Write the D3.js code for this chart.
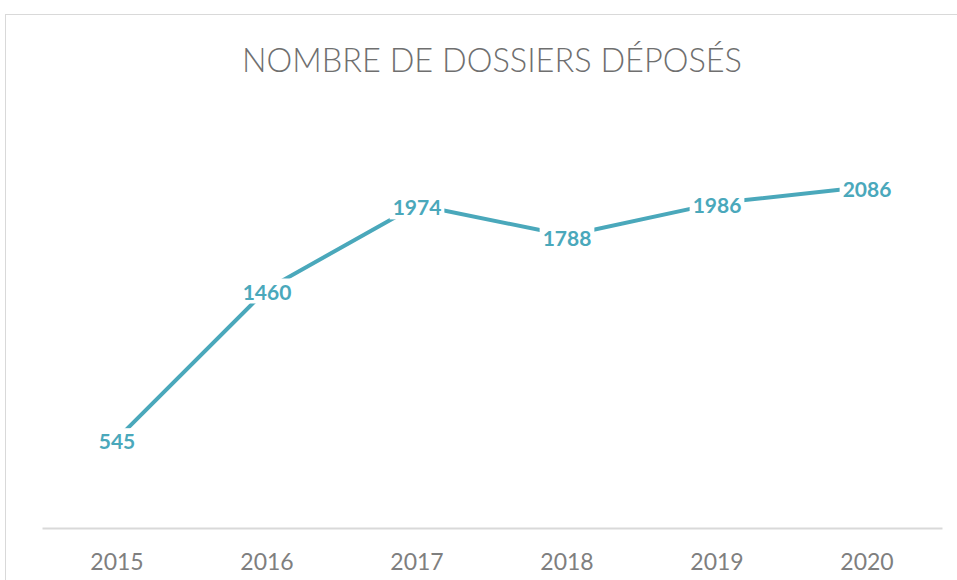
<!DOCTYPE html>
<html lang="fr">
<head>
<meta charset="UTF-8">
<title>Nombre de dossiers déposés</title>
<style>
  body { margin: 0; background: #fff; }
  svg { display: block; }
</style>
</head>
<body>
<div id="root"></div>
<script src="https://d3js.org/d3.v7.min.js"></script>
<script>
const years = ["2015", "2016", "2017", "2018", "2019", "2020"]
const dossiers = [545, 1460, 1974, 1788, 1986, 2086]
const title = "NOMBRE DE DOSSIERS DÉPOSÉS"

const W = 957, H = 580
const teal = "#4aa8bb"

const svg = d3.select("#root").append("svg")
  .attr("width", W)
  .attr("height", H)

// chart frame
svg.append("rect")
  .attr("x", 5.5).attr("y", 14.5)
  .attr("width", W + 10).attr("height", H)
  .attr("fill", "#fff")
  .attr("stroke", "#d9d9d9")

const plot = {left: 42, right: 942, top: 119, bottom: 528}

const x = d3.scaleBand()
  .domain(years)
  .range([plot.left, plot.right])

const y = d3.scaleLinear()
  .domain([0, 2500])
  .range([plot.bottom, plot.top])

svg.append("text")
  .attr("x", (plot.left + plot.right) / 2)
  .attr("y", 72)
  .attr("text-anchor", "middle")
  .attr("font-family", "Lato, 'Open Sans', sans-serif")
  .attr("font-weight", 300)
  .attr("font-size", 34)
  .attr("textLength", 500)
  .attr("lengthAdjust", "spacingAndGlyphs")
  .attr("fill", "#6f6f6f")
  .text(title)

// x axis
const xAxis = svg.append("g")
  .attr("transform", `translate(0,${plot.bottom})`)
  .call(d3.axisBottom(x).tickSize(0).tickPadding(26))
xAxis.select(".domain").attr("stroke", "#d9d9d9").attr("stroke-width", 2)
xAxis.selectAll("text")
  .attr("font-family", "Lato, 'Open Sans', sans-serif")
  .attr("font-size", 23)
  .attr("fill", "#7f7f7f")

const pts = years.map((yr, i) => ({yr, v: dossiers[i]}))

const line = d3.line()
  .x(d => x(d.yr) + x.bandwidth() / 2)
  .y(d => y(d.v))

svg.append("path")
  .datum(pts)
  .attr("d", line)
  .attr("fill", "none")
  .attr("stroke", teal)
  .attr("stroke-width", 4)
  .attr("stroke-linejoin", "round")

const labels = svg.append("g").selectAll("g")
  .data(pts)
  .join("g")
  .attr("transform", d => `translate(${x(d.yr) + x.bandwidth() / 2},${y(d.v) + 3})`)

labels.append("text")
  .attr("text-anchor", "middle")
  .attr("dy", "0.35em")
  .attr("font-family", "Lato, 'Open Sans', sans-serif")
  .attr("font-weight", 700)
  .attr("font-size", 21)
  .attr("fill", teal)
  .text(d => d.v)

labels.each(function() {
  const g = d3.select(this)
  const b = g.select("text").node().getBBox()
  g.insert("rect", "text")
    .attr("x", b.x - 3).attr("y", b.y)
    .attr("width", b.width + 6).attr("height", b.height)
    .attr("fill", "#fff")
})
</script>
</body>
</html>
